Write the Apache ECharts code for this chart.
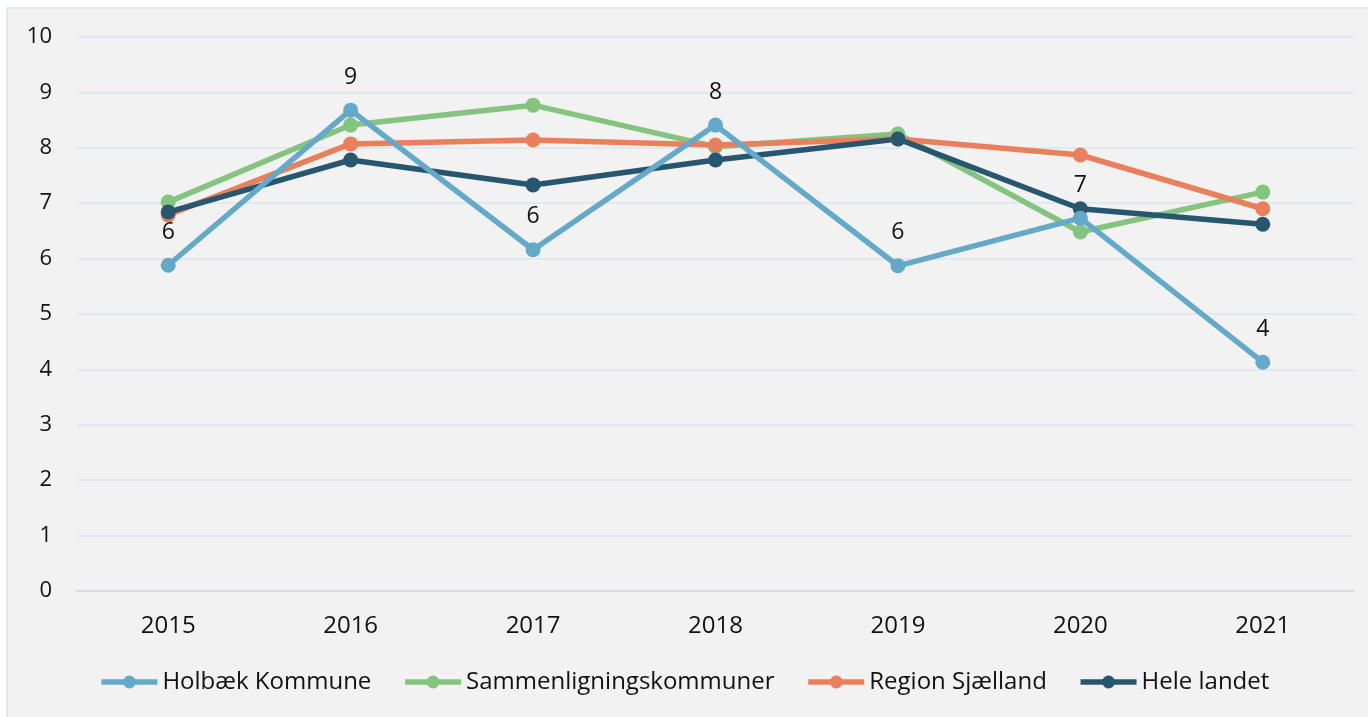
<!DOCTYPE html>
<html>
<head>
<meta charset="utf-8">
<script src="https://cdn.jsdelivr.net/npm/echarts@6/dist/echarts.min.js"></script>
<style>
  html, body { margin: 0; padding: 0; background: #fff; }
  #panel { position: absolute; left: 6px; top: 7px; width: 1370px; height: 720px;
           background: #f2f2f2; border: 2px solid #e2eaf0; box-sizing: border-box; }
  #chartsDiv { position: absolute; left: 0; top: 0; width: 1368px; height: 717px; }
</style>
</head>
<body>
<div id="panel"></div>
<div id="chartsDiv"></div>
<script>
var years = ['2015', '2016', '2017', '2018', '2019', '2020', '2021'];
var holbaek = [5.88, 8.68, 6.16, 8.41, 5.87, 6.73, 4.13];
var sammenligning = [7.02, 8.41, 8.77, 8.02, 8.25, 6.48, 7.20];
var region = [6.79, 8.07, 8.14, 8.05, 8.16, 7.87, 6.90];
var heleLandet = [6.84, 7.78, 7.33, 7.78, 8.16, 6.90, 6.62];

var font = '"Open Sans", "Noto Sans", sans-serif';

var makeSeries = function (name, data, color, withLabel) {
  return {
    name: name,
    type: 'line',
    data: data,
    symbol: 'circle',
    symbolSize: 15,
    lineStyle: { width: 5.5, color: color },
    itemStyle: { color: color },
    label: {
      show: withLabel,
      position: 'top',
      distance: 14,
      color: '#111',
      fontSize: 23,
      fontFamily: font,
      formatter: function (p) { return Math.round(p.value); }
    },
    z: withLabel ? 3 : 2
  };
};

var realChart = echarts.init(document.getElementById('chartsDiv'));
var option = {
  animation: false,
  grid: { left: 77, right: 14, top: 37, bottom: 126 },
  legend: {
    bottom: 18,
    left: 'center',
    itemWidth: 56,
    itemHeight: 16,
    itemGap: 31,
    lineStyle: { width: 5.5 },
    textStyle: { color: '#111', fontSize: 24, fontFamily: font, padding: [0, 0, 0, 0] },
    data: ['Holbæk Kommune', 'Sammenligningskommuner', 'Region Sjælland', 'Hele landet']
  },
  xAxis: {
    type: 'category',
    data: years,
    boundaryGap: true,
    axisLine: { show: true, lineStyle: { color: '#cddfeb', width: 2 } },
    axisTick: { show: false },
    axisLabel: { color: '#111', fontSize: 24, fontFamily: font, margin: 23 }
  },
  yAxis: {
    type: 'value',
    min: 0,
    max: 10,
    interval: 1,
    axisLine: { show: false },
    axisTick: { show: false },
    axisLabel: { color: '#111', fontSize: 22, fontFamily: font, margin: 25 },
    splitLine: { lineStyle: { color: '#e0e9f0', width: 2 } }
  },
  series: [
    makeSeries('Sammenligningskommuner', sammenligning, '#84c47f', false),
    makeSeries('Region Sjælland', region, '#ea7f5c', false),
    makeSeries('Holbæk Kommune', holbaek, '#65a9c9', true),
    makeSeries('Hele landet', heleLandet, '#27566f', false)
  ]
};
realChart.setOption(option);
</script>
</body>
</html>
